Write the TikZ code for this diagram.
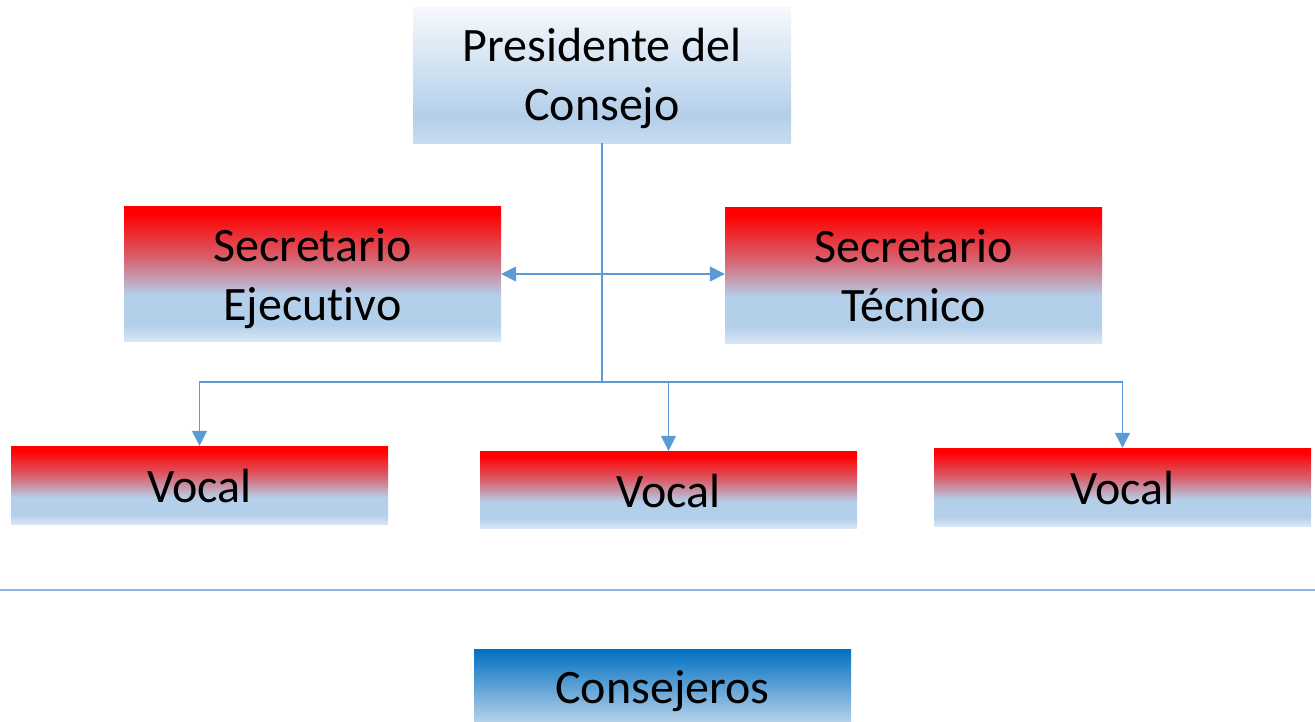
\documentclass[tikz,border=0pt]{standalone}
\usepackage{fontspec}
\setmainfont{Carlito}[Ligatures=NoCommon]
\usetikzlibrary{arrows.meta}
\definecolor{lineblue}{HTML}{5B9BD5}
\definecolor{sepblue}{HTML}{8DB7E1}
\definecolor{lb}{HTML}{B4CFEA}
\definecolor{lbb}{HTML}{D8E6F5}
\definecolor{ptop}{HTML}{F6F9FC}
\definecolor{pbot}{HTML}{C8DCF0}
\definecolor{dblue}{HTML}{0070C0}
\definecolor{rmid}{HTML}{D8606C}
\pgfdeclareverticalshading{redblue}{100bp}{color(0bp)=(lbb); color(25bp)=(lbb); color(31bp)=(lb); color(42bp)=(lb); color(56bp)=(rmid); color(72bp)=(red); color(100bp)=(red)}
\pgfdeclareverticalshading{presshade}{100bp}{color(0bp)=(pbot); color(25bp)=(pbot); color(35bp)=(lb); color(75bp)=(ptop); color(100bp)=(ptop)}
\pgfdeclareverticalshading{conshade}{100bp}{color(0bp)=(lb); color(25bp)=(lb); color(75bp)=(dblue); color(100bp)=(dblue)}
\newcommand\bxt[2]{\raisebox{#1}[\height][\depth]{\begin{tabular}{@{}c@{}}#2\end{tabular}}}
\tikzset{
  box/.style={rectangle, inner sep=0pt, minimum width=377pt, align=center,
    font=\fontsize{48}{59}\selectfont, text=black},
  redbox/.style={box, shading=redblue},
  presbox/.style={box, shading=presshade},
  conbox/.style={box, shading=conshade},
  link/.style={draw=lineblue, line width=1.5pt},
  arrow/.style={link, -{Triangle[length=15pt,width=15pt]}},
}
\begin{document}
\begin{tikzpicture}[x=1pt,y=-1pt]
\useasboundingbox (0,0) rectangle (1315,721);
\node[presbox, minimum width=378pt, minimum height=136pt] (pres) at (602,75) {\bxt{-4pt}{Presidente del\\Consejo}};
\node[redbox, minimum height=135pt] (se) at (312.5,273.5) {\bxt{-6pt}{Secretario\\Ejecutivo}};
\node[redbox, minimum height=136pt] (st) at (913.5,275) {\bxt{-5pt}{Secretario\\Técnico}};
\node[redbox, minimum height=78pt] (v1) at (199.5,485) {\bxt{-6pt}{Vocal}};
\node[redbox, minimum height=77pt] (v2) at (668.5,489.5) {\bxt{-6pt}{Vocal}};
\node[redbox, minimum height=78pt] (v3) at (1122.5,487) {\bxt{-6pt}{Vocal}};
\node[conbox, minimum height=72pt] (con) at (662.5,685) {\bxt{-7pt}{Consejeros}};
\coordinate (mid) at (602,274);
\coordinate (hub) at (602,382);
\coordinate (sepL) at (0,590);
\coordinate (sepR) at (1315,590);
\draw[link, line width=2pt] (pres.south) -- (hub);
\draw[arrow] (mid) -- (se.east |- mid);
\draw[arrow] (mid) -- (st.west |- mid);
\draw[arrow] (hub) -| (v1.north);
\draw[arrow] (hub) -| (v2.north);
\draw[arrow] (hub) -| (v3.north);
\draw[draw=sepblue, line width=1.5pt] (sepL) -- (sepR);
\end{tikzpicture}
\end{document}
